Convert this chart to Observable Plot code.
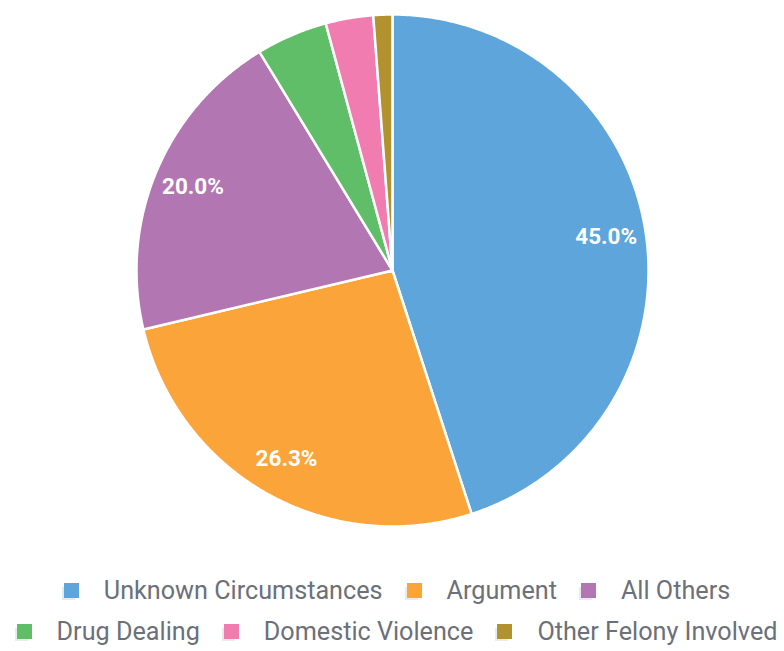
<!DOCTYPE html>
<html>
<head>
<meta charset="utf-8">
<script src="https://cdn.jsdelivr.net/npm/d3@7"></script>
<script src="https://cdn.jsdelivr.net/npm/@observablehq/plot@0.6"></script>
<style>
  html, body { margin: 0; padding: 0; background: #fff; }
  #chart { width: 784px; }
  #legend { width: 784px; box-sizing: border-box; padding-left: 10px; font-family: Roboto, "Noto Sans", sans-serif; font-size: 25.2px; color: #6b7079; padding-top: 30px; }
  .row { display: flex; justify-content: center; align-items: center; height: 41px; white-space: nowrap; }
  .item { display: flex; align-items: center; margin: 0 12px; }
  .sw { width: 15px; height: 15px; margin-right: 25px; box-shadow: -3px 3px 0 -1px #e6ebf0; }
</style>
</head>
<body>
<div id="chart"></div>
<script>
const categories = ["Unknown Circumstances", "Argument", "All Others", "Drug Dealing", "Domestic Violence", "Other Felony Involved"];
const values = [45.0, 26.3, 20.0, 4.5, 3.0, 1.2];
const colors = ["#5DA5DA", "#FAA43A", "#B276B2", "#60BD68", "#F17CB0", "#B2912F"];
const legendRows = [[0, 1, 2], [3, 4, 5]];

const data = categories.map((c, i) => ({category: c, value: values[i]}));
const arcs = d3.pie().sort(null).value(d => d.value)(data);

// polygon outline of each slice (center + arc), in unit coordinates
const pts = [];
for (const a of arcs) {
  const c = a.data.category;
  pts.push({category: c, x: 0, y: 0});
  const n = Math.max(2, Math.ceil((a.endAngle - a.startAngle) / 0.005));
  for (let k = 0; k <= n; k++) {
    const t = a.startAngle + (a.endAngle - a.startAngle) * k / n;
    pts.push({category: c, x: Math.sin(t), y: Math.cos(t)});
  }
}
const labels = arcs.filter(a => a.data.value >= 10).map(a => {
  const t = (a.startAngle + a.endAngle) / 2;
  return {x: 0.845 * Math.sin(t), y: 0.845 * Math.cos(t), text: a.data.value.toFixed(1) + "%"};
});

const chart = Plot.plot({
  width: 784,
  height: 540,
  marginLeft: 136,
  marginRight: 136,
  marginTop: 14,
  marginBottom: 14,
  x: {domain: [-1, 1], axis: null},
  y: {domain: [-1, 1], axis: null},
  color: {domain: categories, range: colors},
  style: {fontFamily: "Roboto, sans-serif", background: "white"},
  marks: [
    Plot.line(pts, {x: "x", y: "y", z: "category", fill: "category", stroke: "white", strokeWidth: 2.5, curve: "linear-closed", strokeLinejoin: "round"}),
    Plot.text(labels, {x: "x", y: "y", text: "text", fill: "white", fontSize: 22.5, fontWeight: "bold"})
  ]
});
document.getElementById("chart").appendChild(chart);

const legend = document.createElement("div");
legend.id = "legend";
for (const row of legendRows) {
  const r = document.createElement("div");
  r.className = "row";
  for (const i of row) {
    const it = document.createElement("div");
    it.className = "item";
    const sw = document.createElement("span");
    sw.className = "sw";
    sw.style.background = colors[i];
    const tx = document.createElement("span");
    tx.textContent = categories[i];
    it.appendChild(sw);
    it.appendChild(tx);
    r.appendChild(it);
  }
  legend.appendChild(r);
}
document.body.appendChild(legend);
</script>
</body>
</html>
